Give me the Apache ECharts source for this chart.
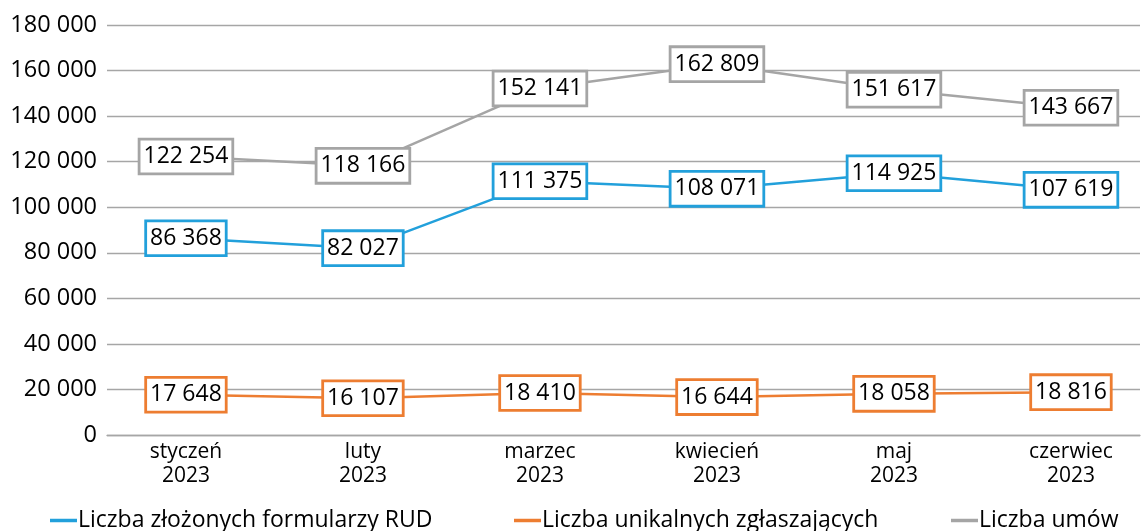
<!DOCTYPE html>
<html>
<head>
<meta charset="utf-8">
<script src="https://cdn.jsdelivr.net/npm/echarts@6/dist/echarts.min.js"></script>
<style>
	html, body { margin: 0; padding: 0; background: #fff; }
	#chart { width: 1141px; height: 531px; }
</style>
</head>
<body>
<div id="chart"></div>
<script>
	// dane z wykresu
	const months = ['styczeń\n2023', 'luty\n2023', 'marzec\n2023', 'kwiecień\n2023', 'maj\n2023', 'czerwiec\n2023'];
	const formularze = [86368, 82027, 111375, 108071, 114925, 107619];
	const zglaszajacy = [17648, 16107, 18410, 16644, 18058, 18816];
	const umowy = [122254, 118166, 152141, 162809, 151617, 143667];
	const seriesNames = ['Liczba złożonych formularzy RUD', 'Liczba unikalnych zgłaszających', 'Liczba umów'];
	const colors = ['#22A0DB', '#ED7D31', '#A5A5A5'];

	const font = 'Open Sans';
	const fmt = v => String(Math.round(v)).replace(/\B(?=(\d{3})+(?!\d))/g, ' ');

	function lineSeries(name, values, color) {
		return {
			name: name,
			type: 'line',
			data: values.map((v, i) => [i, v]),
			symbol: 'circle',
			symbolSize: 2,
			lineStyle: { color: color, width: 2.5 },
			itemStyle: { color: color },
			label: {
				show: true,
				position: 'inside',
				formatter: p => fmt(p.value[1]),
				fontFamily: font,
				fontSize: 23,
				lineHeight: 26,
				color: '#000',
				backgroundColor: '#fff',
				borderColor: color,
				borderWidth: 2.8,
				padding: [4, 3, 2, 3]
			}
		};
	}

	function legendAt(left, name) {
		return {
			left: left,
			top: 504,
			data: [name],
			icon: 'rect',
			itemWidth: 27,
			itemHeight: 3.5,
			itemGap: 0,
			textStyle: { fontFamily: font, fontSize: 23, color: '#000', padding: [0, 0, 0, -4] }
		};
	}

	let chart = echarts.init(document.getElementById('chart'));
	let option = {
		animation: false,
		color: colors,
		grid: {
			left: 107,
			right: 1,
			top: 25,
			bottom: 96
		},
		legend: [
			legendAt(45, seriesNames[0]),
			legendAt(509, seriesNames[1]),
			legendAt(946, seriesNames[2])
		],
		xAxis: {
			type: 'value',
			min: -0.446,
			max: 5.39,
			splitLine: { show: false },
			axisTick: { show: false },
			axisLine: { show: true, lineStyle: { color: '#A6A6A6', width: 1.3 } },
			axisLabel: {
				customValues: [0, 1, 2, 3, 4, 5],
				formatter: v => months[Math.round(v)],
				fontFamily: font,
				fontSize: 21,
				lineHeight: 24,
				color: '#000',
				margin: 5
			}
		},
		yAxis: {
			type: 'value',
			min: 0,
			max: 180000,
			interval: 20000,
			axisLine: { show: false },
			axisTick: { show: false },
			splitLine: { lineStyle: { color: '#A6A6A6', width: 1.3 } },
			axisLabel: {
				formatter: fmt,
				fontFamily: font,
				fontSize: 23.5,
				color: '#000',
				margin: 10
			}
		},
		series: [
			lineSeries(seriesNames[0], formularze, colors[0]),
			lineSeries(seriesNames[1], zglaszajacy, colors[1]),
			lineSeries(seriesNames[2], umowy, colors[2])
		]
	};
	chart.setOption(option);
</script>
</body>
</html>
